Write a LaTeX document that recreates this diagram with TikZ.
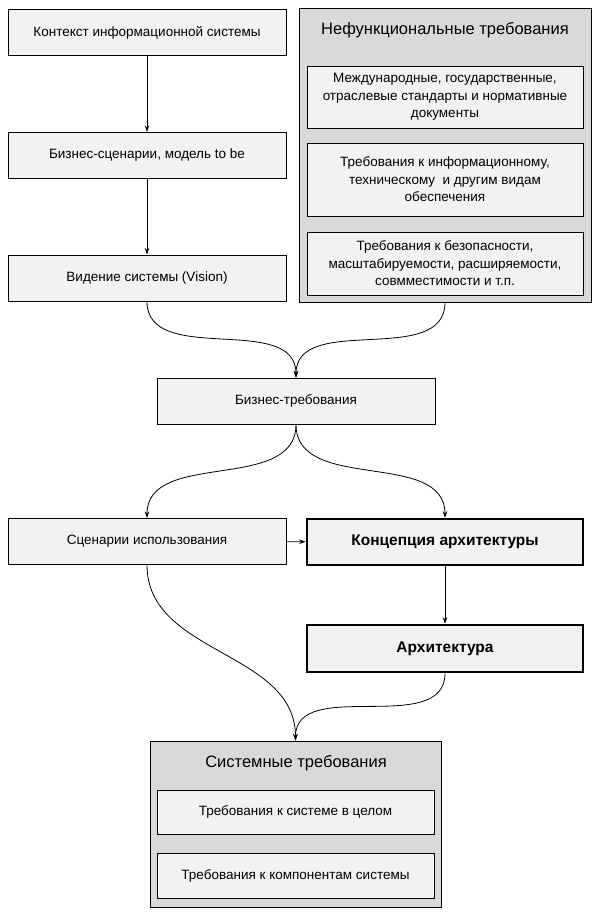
\documentclass[tikz,border=0pt]{standalone}
\usepackage{fontspec}
\setmainfont{Liberation Sans}
\usepackage{xcolor}
\usepackage{tikz}
\usetikzlibrary{positioning,arrows.meta}

\definecolor{boxfill}{HTML}{F2F2F2}
\definecolor{groupfill}{HTML}{D9D9D9}

\begin{document}
\begin{tikzpicture}[x=1pt,y=-1pt,>={Stealth[length=6.5pt,width=4.5pt]}]
    \tikzset{
        block/.style={draw, fill=boxfill, line width=1pt, minimum width=278pt, minimum height=46pt, align=center, inner sep=0pt, font=\fontsize{13.5}{17.5}\selectfont},
        mainblock/.style={block, line width=2.6pt, minimum width=276pt, font=\fontsize{15.5}{18}\selectfont\bfseries},
        group/.style={draw, fill=groupfill, line width=1pt, inner sep=0pt},
        grouptitle/.style={font=\fontsize{16.5}{20}\selectfont},
        flow/.style={->, line width=0.8pt}
    }
    \useasboundingbox (0,0) rectangle (600,919);

    % left column
    \node[block] (context) at (147,32.5) {Контекст информационной системы};
    \node[block] (scenarios) at (147,155.5) {Бизнес-сценарии, модель to be};
    \node[block] (vision) at (147,278) {Видение системы (Vision)};

    % non-functional requirements
    \node[group, minimum width=292pt, minimum height=294pt] (nfr) at (445,155) {};
    \node[grouptitle] (nfrtitle) at (445,30) {Нефункциональные требования};
    \node[block, minimum width=276pt, minimum height=62pt] (standards) at (445,97)
        {Международные, государственные,\\отраслевые стандарты и нормативные\\документы};
    \node[block, minimum width=276pt, minimum height=73pt] (support) at (445,179.5)
        {Требования к информационному,\\техническому \ и другим видам\\обеспечения};
    \node[block, minimum width=276pt, minimum height=63pt] (quality) at (445,263.5)
        {Требования к безопасности,\\масштабируемости, расширяемости,\\совмместимости и т.п.};

    % business requirements
    \node[block] (bizreq) at (296,401) {Бизнес-требования};

    \node[block] (usecases) at (147,541.5) {Сценарии использования};
    \node[mainblock, minimum height=46pt] (concept) at (445,542) {Концепция архитектуры};
    \node[mainblock, minimum height=47pt] (arch) at (445,648.5) {Архитектура};

    % system requirements
    \node[group, minimum width=291pt, minimum height=166pt] (sysreq) at (295.5,824) {};
    \node[grouptitle] (systitle) at (296,763) {Системные требования};
    \node[block, minimum width=277pt, minimum height=44pt] (whole) at (295.5,812) {Требования к системе в целом};
    \node[block, minimum width=277pt, minimum height=45pt] (parts) at (295.5,875.5) {Требования к компонентам системы};

    \draw[flow] (context) -- (scenarios);
    \draw[flow] (scenarios) -- (vision);
    \draw[flow] (vision.south) to[out=-90, in=90] (bizreq.north);
    \draw[flow] (nfr.south) to[out=-90, in=90] (bizreq.north);
    \draw[flow] (bizreq.south) to[out=-90, in=90] (usecases.north);
    \draw[flow] (bizreq.south) to[out=-90, in=90] (concept.north);
    \draw[flow] (usecases) -- (concept);
    \draw[flow] (concept) -- (arch);
    \draw[flow] (usecases.south) to[out=-90, in=90] (sysreq.north);
    \draw[flow] (arch.south) to[out=-90, in=90] (sysreq.north);
\end{tikzpicture}
\end{document}
